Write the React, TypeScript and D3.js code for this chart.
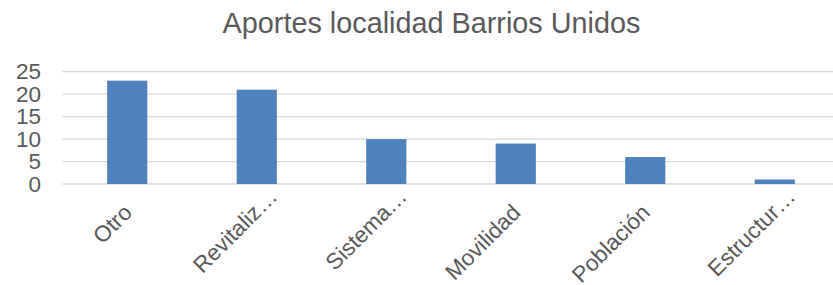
import { FC, useEffect, useRef } from 'react';
import * as d3 from 'd3';

const categories = ['Otro', 'Revitaliz', 'Sistema', 'Movilidad', 'Población', 'Estructur'];
const truncated = [false, true, true, false, false, true];
const values = [23, 21, 10, 9, 6, 1];
const yTicks = [0, 5, 10, 15, 20, 25];
const title = 'Aportes localidad Barrios Unidos';

const App: FC = () => {
  const svgRef = useRef<SVGSVGElement>(null);

  useEffect(() => {
    if (!svgRef.current) return;
    const width = 833;
    const height = 285;
    const svg = d3.select(svgRef.current).attr('width', width).attr('height', height);
    svg.selectAll('*').remove();

    const font = 'Arial, "Liberation Sans", sans-serif';
    const textColor = '#595959';
    const labelSize = 22.5;

    const xScale = d3
      .scaleBand<string>()
      .domain(categories)
      .range([62.5, 839.5])
      .paddingInner(0.69)
      .paddingOuter(0.345);
    const yScale = d3.scaleLinear().domain([0, 25]).range([184, 71.7]);

    // gridlines
    svg
      .append('g')
      .selectAll('line')
      .data(yTicks)
      .join('line')
      .attr('x1', 62.5)
      .attr('x2', width)
      .attr('y1', (d) => yScale(d))
      .attr('y2', (d) => yScale(d))
      .attr('stroke', '#d9d9d9')
      .attr('stroke-width', 1.3);

    const yAxis = d3
      .axisLeft(yScale)
      .tickValues(yTicks)
      .tickSizeInner(0)
      .tickSizeOuter(0)
      .tickPadding(0);
    const yg = svg.append('g').attr('transform', 'translate(41, 0)').call(yAxis);
    yg.select('.domain').remove();
    yg.selectAll('text')
      .attr('fill', textColor)
      .attr('font-family', font)
      .attr('font-size', labelSize);

    svg
      .append('g')
      .selectAll('rect')
      .data(values)
      .join('rect')
      .attr('x', (_, i) => xScale(categories[i]) as number)
      .attr('width', xScale.bandwidth())
      .attr('y', (d) => yScale(d))
      .attr('height', (d) => yScale(0) - yScale(d))
      .attr('fill', '#4f81bd');

    // rotated category labels; the ellipsis of cut labels runs past the anchor
    const labels = svg
      .append('g')
      .selectAll('g')
      .data(categories)
      .join('g')
      .attr(
        'transform',
        (d) => `translate(${(xScale(d) as number) + xScale.bandwidth() / 2 + 6}, 214) rotate(-45)`
      );
    labels
      .append('text')
      .attr('text-anchor', 'end')
      .attr('fill', textColor)
      .attr('font-family', font)
      .attr('font-size', labelSize)
      .text((d) => d);
    labels
      .filter((_, i) => truncated[i])
      .append('text')
      .attr('text-anchor', 'start')
      .attr('fill', textColor)
      .attr('font-family', font)
      .attr('font-size', labelSize)
      .text('…');

    svg
      .append('text')
      .attr('x', 431.5)
      .attr('y', 33)
      .attr('text-anchor', 'middle')
      .attr('fill', textColor)
      .attr('font-family', font)
      .attr('font-size', 28.8)
      .text(title);
  }, []);

  return <svg ref={svgRef} style={{ position: 'absolute', left: 0, top: 0, background: '#fff' }} />;
};

export default App;
